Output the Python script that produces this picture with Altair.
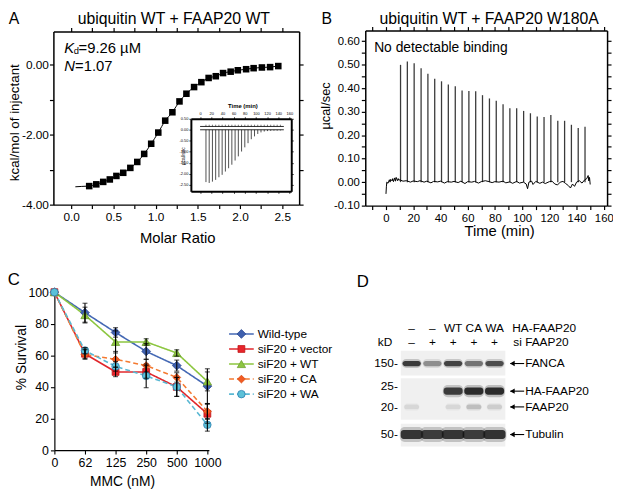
import altair as alt
import pandas as pd

W, H = 613, 490
FONT = "Liberation Sans"


def px(v):
    return v - 8


# ---------------- Panel A: ITC isotherm (ubiquitin WT + FAAP20 WT) -------------
molar_ratio = [0.214, 0.298, 0.380, 0.458, 0.536, 0.617, 0.701, 0.783, 0.865,
               0.948, 1.032, 1.114, 1.199, 1.283, 1.365, 1.456, 1.542, 1.628,
               1.713, 1.799, 1.889, 1.974, 2.072, 2.161, 2.259, 2.356, 2.453]
heat_kcal = [-3.47, -3.42, -3.35, -3.28, -3.18, -3.09, -2.95, -2.78, -2.55,
             -2.26, -1.94, -1.60, -1.36, -1.05, -0.83, -0.64, -0.50, -0.38,
             -0.33, -0.24, -0.20, -0.16, -0.13, -0.10, -0.08, -0.07, -0.04]
fit_ratio = [0.05, 0.12] + molar_ratio
fit_heat = [-3.49, -3.48] + heat_kcal

inset_time = [10.5, 16.3, 22.1, 27.9, 33.7, 39.5, 45.3, 51.1, 56.9, 62.7, 68.5, 74.3,
              80.1, 85.9, 91.7, 97.5, 103.3, 109.1, 114.9, 120.7, 126.5, 132.3, 138.1, 143.9]
inset_peak = [-2.38, -2.42, -2.36, -2.28, -2.16, -2.05, -1.90, -1.75, -1.59, -1.40, -1.21, -0.99,
              -0.80, -0.61, -0.43, -0.30, -0.19, -0.12, -0.08, -0.06, -0.05, -0.04, -0.04, -0.03]

# ---------------- Panel B: raw ITC (ubiquitin WT + FAAP20 W180A) ---------------
b_inj_time = [10.7, 15.7, 20.7, 25.8, 30.8, 35.8, 40.8, 45.8, 50.9, 55.9, 60.9, 65.9, 70.9, 76.0,
              81.0, 86.0, 91.0, 96.0, 101.1, 106.1, 111.1, 116.1, 121.1, 126.2, 131.2, 136.2, 141.2, 146.2]
b_peak = [0.499, 0.513, 0.506, 0.485, 0.461, 0.440, 0.429, 0.415, 0.408, 0.390, 0.388, 0.387, 0.370, 0.356,
          0.346, 0.331, 0.314, 0.314, 0.303, 0.293, 0.279, 0.277, 0.286, 0.261, 0.261, 0.244, 0.230, 0.236]
b_base_t = [0.0, 0.3, 0.6, 1.5, 2.5, 3.0, 3.5, 4.5, 5.0, 5.5, 6.5, 7.0, 7.5, 8.5, 9.0, 9.5, 10.2, 12.5,
            15.0, 18.0, 20.0, 23.0, 25.0, 28.0, 30.0, 33.0, 35.0, 38.0, 40.0, 43.0, 45.0, 48.0, 50.0,
            53.0, 55.0, 58.0, 60.0, 63.0, 65.0, 68.0, 70.0, 73.0, 75.0, 78.0, 80.0, 83.0, 86.0, 88.0,
            91.0, 93.0, 96.0, 98.0, 101.0, 103.0, 104.0, 105.0, 107.0, 108.0, 110.0, 113.0, 115.0,
            117.0, 120.0, 122.0, 124.0, 126.0, 128.0, 130.0, 132.0, 134.0, 135.5, 137.0, 138.5, 140.0,
            142.0, 144.0, 146.0, 147.5, 148.5, 149.0, 149.5, 150.0]
b_base_v = [-0.05, -0.02, 0.0, -0.005, 0.01, 0.0, 0.012, 0.005, 0.015, 0.002, 0.018, 0.004, 0.02,
            0.006, 0.015, 0.008, 0.01, 0.004, 0.006, 0.0, 0.005, 0.002, 0.006, 0.0, 0.004, -0.003,
            0.003, 0.001, 0.004, -0.004, 0.002, 0.0, 0.003, -0.002, 0.004, -0.006, 0.002, 0.0, 0.003,
            -0.004, 0.002, 0.006, 0.003, -0.002, 0.002, 0.0, 0.004, -0.003, 0.001, -0.005, 0.003,
            -0.004, 0.0, -0.008, -0.028, 0.0, 0.004, -0.01, 0.003, -0.005, 0.0, -0.006, 0.002, 0.004,
            -0.008, -0.012, 0.0, 0.003, -0.006, -0.015, -0.025, -0.008, -0.018, 0.0, 0.006, -0.004,
            0.01, 0.015, 0.028, 0.005, 0.02, -0.01]

# ---------------- Panel C: survival ----------------------------------------------
doses = ["0", "62", "125", "250", "500", "1000"]
series = ["Wild-type", "siF20 + vector", "siF20 + WT", "siF20 + CA", "siF20 + WA"]
surv_wt = [100, 87, 74.5, 62.5, 53.5, 40.5]
surv_vector = [100, 61, 49.5, 49.5, 40, 23]
surv_siwt = [100, 85.5, 68.5, 68.5, 61.5, 43.5]
surv_ca = [100, 60.5, 57.5, 53.5, 46, 24.5]
surv_wa = [100, 63, 53, 47, 40, 16]
err_wt = [0, 6, 3, 5, 3.5, 11]
err_vector = [0, 3, 3, 4, 6, 6]
err_siwt = [0, 5, 7, 2, 2, 6]
err_ca = [0, 3, 5, 4, 3, 5]
err_wa = [0, 2, 3, 7.5, 6, 4]

# ---------------- Panel D: western blot ------------------------------------------
lanes = [1, 2, 3, 4, 5]
ha_row = ["\u2013", "\u2013", "WT", "CA", "WA"]
si_row = ["\u2013", "+", "+", "+", "+"]
fanca_int = [0.85, 0.42, 0.80, 0.55, 0.75]
ha_faap20_int = [0.0, 0.0, 0.85, 0.95, 0.95]
faap20_int = [0.10, 0.0, 0.10, 0.20, 0.14]
tubulin_int = [0.88, 0.85, 0.88, 0.85, 0.90]
blot_labels = ["FANCA", "HA-FAAP20", "FAAP20", "Tubulin"]
blot_row = [2.57, 4.57, 5.71, 7.71]
mw_labels = ["150-", "25-", "20-", "50-"]
mw_row = [2.57, 4.21, 5.71, 7.71]
strip_top = [1.64, 3.64, 6.93]
strip_bottom = [3.43, 6.64, 8.57]


# ---------------- helpers ---------------------------------------------------------
def lin(domain, rng):
    return alt.Scale(domain=domain, range=rng, nice=False, zero=False)


def off_l(x):
    return -px(x)


def off_r(x):
    return px(x) - W


def off_t(y):
    return -px(y)


def off_b(y):
    return px(y) - H


def axis(orient, offset, values, labels=True, expr=None, size=12, tick=4, dw=1.5, pad=2, tw=1.2):
    kw = dict(orient=orient, offset=offset, values=values, title=None, grid=False,
              domainColor="black", domainWidth=dw, tickColor="black", tickWidth=tw,
              tickSize=tick, labels=labels, labelFont=FONT, labelFontSize=size,
              labelColor="black", labelPadding=pad, labelFlush=False, labelOverlap=False)
    if expr:
        kw["labelExpr"] = expr
    return alt.Axis(**kw)


def txt(s, x, y, size=12, angle=0, align="left", baseline="alphabetic", style="normal",
        weight="normal", font=FONT):
    return alt.Chart(alt.Data(values=[{"k": 0}])).mark_text(
        align=align, baseline=baseline, fontSize=size, angle=angle, font=font,
        fontStyle=style, fontWeight=weight, color="black"
    ).encode(x=alt.value(px(x)), y=alt.value(px(y)), text=alt.value(s))


MINUS = "\u2212"
fmt2 = "replace(format(datum.value, '.2f'), '" + MINUS + "', '-')"

# ---------------- Panel A --------------------------------------------------------
A_xs = lin([-0.21, 2.70], [px(54), px(303)])
A_ys = lin([-4.0, 0.95], [px(204), px(28.5)])
a_xt = [0, 0.25, 0.5, 0.75, 1.0, 1.25, 1.5, 1.75, 2.0, 2.25, 2.5]
a_yt = [-4, -3, -2, -1, 0]
a_bottom = axis("bottom", off_b(204), a_xt, pad=3,
                expr="(datum.value*2) % 1 == 0 ? format(datum.value, '.1f') : ''")
a_left = axis("left", off_l(54), a_yt, pad=1,
              expr="datum.value % 2 == 0 ? " + fmt2 + " : ''")
a_top = axis("top", off_t(28.5), a_xt, labels=False)
a_right = axis("right", off_r(303), a_yt, labels=False)

a_df = pd.DataFrame({"ratio": molar_ratio, "heat": heat_kcal})
fit_df = pd.DataFrame({"ratio": fit_ratio, "heat": fit_heat})

A_main = alt.layer(
    alt.Chart(fit_df).mark_line(color="black", strokeWidth=1, interpolate="monotone").encode(
        x=alt.X("ratio:Q", scale=A_xs, axis=a_bottom), y=alt.Y("heat:Q", scale=A_ys, axis=a_left)),
    alt.Chart(a_df).mark_point(shape="square", filled=True, size=44, color="black", opacity=1).encode(
        x=alt.X("ratio:Q", scale=A_xs, axis=a_bottom), y=alt.Y("heat:Q", scale=A_ys, axis=a_left)),
)
A_dummy = alt.Chart(a_df).mark_point(opacity=0).encode(
    x=alt.X("ratio:Q", scale=A_xs, axis=a_top), y=alt.Y("heat:Q", scale=A_ys, axis=a_right))

# inset
I_xs = lin([-16.5, 163.3], [px(193.3), px(295)])
I_ys = lin([-2.8, 0.5], [px(190.5), px(117)])
i_xt = [0, 20, 40, 60, 80, 100, 120, 140, 160]
i_yt = [0.5, 0.0, -0.5, -1.0, -1.5, -2.0, -2.5]
i_top = axis("top", off_t(117), i_xt, size=4, tick=2, pad=1, dw=2, tw=0.8)
i_left = axis("left", off_l(193.3), i_yt, expr=fmt2, size=4, tick=2, pad=1, dw=2, tw=0.8)
i_bottom = axis("bottom", off_b(190.5), i_xt, labels=False, tick=2, dw=2, tw=0.8)
i_right = axis("right", off_r(295), i_yt, labels=False, tick=2, dw=2, tw=0.8)

ins_df = pd.DataFrame({"t": inset_time, "peak": inset_peak})
ins_df["zero"] = 0.0
ins_df["up0"] = 0.15
ins_df["up1"] = 0.23
ins_lines = pd.DataFrame({"t0": [0.0, 0.0], "t1": [150.0, 150.0], "lev": [0.0, 0.15]})

ins_main = alt.layer(
    alt.Chart(ins_df).mark_rule(color="#222", strokeWidth=0.8).encode(
        x=alt.X("t:Q", scale=I_xs, axis=i_top), y=alt.Y("zero:Q", scale=I_ys, axis=i_left),
        y2="peak:Q"),
    alt.Chart(ins_df).mark_rule(color="#222", strokeWidth=0.6).encode(
        x=alt.X("t:Q", scale=I_xs, axis=i_top), y=alt.Y("up0:Q", scale=I_ys, axis=i_left),
        y2="up1:Q"),
    alt.Chart(ins_lines).mark_rule(color="#111", strokeWidth=0.9).encode(
        x=alt.X("t0:Q", scale=I_xs, axis=i_top), x2="t1:Q",
        y=alt.Y("lev:Q", scale=I_ys, axis=i_left)),
)
ins_dummy = alt.Chart(ins_df).mark_point(opacity=0).encode(
    x=alt.X("t:Q", scale=I_xs, axis=i_bottom), y=alt.Y("peak:Q", scale=I_ys, axis=i_right))

# ---------------- Panel B --------------------------------------------------------
B_xs = lin([-15.2, 162.4], [px(370), px(615)])
B_ys = lin([-0.10, 0.645], [px(205), px(27.6)])
b_xt = [-10, 0, 10, 20, 30, 40, 50, 60, 70, 80, 90, 100, 110, 120, 130, 140, 150, 160]
b_yt = [-0.10, -0.05, 0.0, 0.05, 0.10, 0.15, 0.20, 0.25, 0.30, 0.35, 0.40, 0.45, 0.50, 0.55, 0.60]
b_bottom = axis("bottom", off_b(205), b_xt, pad=3, size=11.5,
                expr="datum.value % 20 == 0 ? format(datum.value, 'd') : ''")
b_left = axis("left", off_l(370), b_yt, pad=2, size=11.5,
              expr="abs(round(datum.value*100)) % 10 == 0 ? " + fmt2 + " : ''")
b_top = axis("top", off_t(27.6), b_xt, labels=False)
b_right = axis("right", off_r(615), b_yt, labels=False)

b_spk = pd.DataFrame({"t": b_inj_time, "peak": b_peak})
b_spk["zero"] = 0.0
b_trace = pd.DataFrame({"t": b_base_t, "v": b_base_v})

B_main = alt.layer(
    alt.Chart(b_spk).mark_rule(color="#3a3a3a", strokeWidth=1.3).encode(
        x=alt.X("t:Q", scale=B_xs, axis=b_bottom), y=alt.Y("zero:Q", scale=B_ys, axis=b_left),
        y2="peak:Q"),
    alt.Chart(b_trace).mark_line(color="black", strokeWidth=1).encode(
        x=alt.X("t:Q", scale=B_xs, axis=b_bottom), y=alt.Y("v:Q", scale=B_ys, axis=b_left)),
)
B_dummy = alt.Chart(b_trace).mark_point(opacity=0).encode(
    x=alt.X("t:Q", scale=B_xs, axis=b_top), y=alt.Y("v:Q", scale=B_ys, axis=b_right))

# ---------------- Panel C --------------------------------------------------------
C_xs = lin([0, 5.05], [px(55), px(211.55)])
C_ys = lin([0, 100], [px(452.7), px(292.7)])
dose_expr = "[" + ",".join("'" + d + "'" for d in doses) + "][datum.value]"
c_xaxis = axis("bottom", off_b(452.7), [0, 1, 2, 3, 4, 5], expr=dose_expr, size=12.5,
               tick=4, pad=3, dw=1.2, tw=1.1)
c_yaxis = axis("left", off_l(55), [0, 20, 40, 60, 80, 100], size=12.5, tick=4, pad=2,
               dw=1.2, tw=1.1)

line_colors = ["#4468b4", "#e0262b", "#8cc63f", "#f47a30", "#5ab8d3"]
fill_colors = ["#3f60ae", "#e8242b", "#8dc641", "#f15a22", "#5cc1d8"]
edge_colors = ["#2a4890", "#c01818", "#6fa030", "#d84a10", "#2c7fb0"]
shapes = ["diamond", "square", "triangle-up", "diamond", "circle"]
sizes = [80, 48, 70, 62, 58]
dashes = [[1, 0], [1, 0], [1, 0], [5, 3], [5, 3]]

rows = []
for s, vals, errs in zip(series, [surv_wt, surv_vector, surv_siwt, surv_ca, surv_wa],
                         [err_wt, err_vector, err_siwt, err_ca, err_wa]):
    for i, (v, e) in enumerate(zip(vals, errs)):
        rows.append({"series": s, "dose": i, "surv": v, "err": e, "lo": v - e, "hi": v + e})
c_df = pd.DataFrame(rows)
e_df = c_df[c_df["err"] > 0]


def cx(f):
    return alt.X(f, type="quantitative", scale=C_xs, axis=c_xaxis)


def cy(f):
    return alt.Y(f, type="quantitative", scale=C_ys, axis=c_yaxis)


color_enc = alt.Color("series:N", scale=alt.Scale(domain=series, range=line_colors), legend=None)
dash_enc = alt.StrokeDash("series:N", scale=alt.Scale(domain=series, range=dashes), legend=None)

c_layers = [
    alt.Chart(c_df).mark_line(strokeWidth=1.6).encode(x=cx("dose"), y=cy("surv"),
                                                      color=color_enc, strokeDash=dash_enc),
]
for k, s in enumerate(series):
    c_layers.append(
        alt.Chart(c_df).transform_filter(alt.datum.series == s).mark_point(
            shape=shapes[k], filled=True, size=sizes[k], fill=fill_colors[k],
            stroke=edge_colors[k], strokeWidth=0.8, opacity=1).encode(x=cx("dose"), y=cy("surv")))
c_layers += [
    alt.Chart(e_df).mark_rule(color="black", strokeWidth=1.1).encode(
        x=cx("dose"), y=cy("lo"), y2="hi:Q"),
    alt.Chart(e_df).mark_tick(orient="horizontal", color="black", size=5, thickness=1.1).encode(
        x=cx("dose"), y=cy("lo")),
    alt.Chart(e_df).mark_tick(orient="horizontal", color="black", size=5, thickness=1.1).encode(
        x=cx("dose"), y=cy("hi")),
]
C_main = alt.layer(*c_layers)

# legend
L_xs = lin([0, 1], [px(232), px(257)])
L_ys = lin([0, 4], [px(335), px(396)])
leg_df = pd.DataFrame({"series": series, "idx": list(range(len(series)))})
leg_layers = [
    alt.Chart(leg_df).mark_rule(strokeWidth=1.6).encode(
        x=alt.XDatum(0, scale=L_xs, axis=None), x2=alt.X2Datum(1),
        y=alt.Y("idx:Q", scale=L_ys, axis=None), color=color_enc, strokeDash=dash_enc),
]
for k, s in enumerate(series):
    leg_layers.append(
        alt.Chart(leg_df).transform_filter(alt.datum.series == s).mark_point(
            shape=shapes[k], filled=True, size=sizes[k], fill=fill_colors[k],
            stroke=edge_colors[k], strokeWidth=0.8, opacity=1).encode(
            x=alt.XDatum(0.5, scale=L_xs, axis=None), y=alt.Y("idx:Q", scale=L_ys, axis=None)))
leg_layers.append(
    alt.Chart(leg_df).mark_text(align="left", baseline="middle", dx=4, fontSize=12, font=FONT,
                                color="black").encode(
        x=alt.XDatum(1, scale=L_xs, axis=None), y=alt.Y("idx:Q", scale=L_ys, axis=None),
        text="series:N"))
Leg = alt.layer(*leg_layers)

# ---------------- Panel D --------------------------------------------------------
D_xs = lin([1, 5], [px(417), px(501)])
D_ys = lin([0, 10], [px(329), px(469)])
strip_df = pd.DataFrame({"y0": strip_top, "y1": strip_bottom})
strip_df["x0"] = 0.476
strip_df["x1"] = 5.52

band_half_h = [0.19, 0.26, 0.17, 0.32]
band_half_w = [0.44, 0.46, 0.36, 0.53]
brows = []
for name, r, hh, hw, ints in zip(blot_labels, blot_row, band_half_h, band_half_w,
                                 [fanca_int, ha_faap20_int, faap20_int, tubulin_int]):
    for ln, it in zip(lanes, ints):
        if it <= 0:
            continue
        brows.append({"band": name, "x0": ln - hw, "x1": ln + hw, "y0": r - hh, "y1": r + hh,
                      "hx0": ln - hw * 1.08, "hx1": ln + hw * 1.08,
                      "hy0": r - hh * 1.7, "hy1": r + hh * 1.7,
                      "op": it * 0.9, "hop": it * 0.25})
band_df = pd.DataFrame(brows)
hdr_df = pd.DataFrame({"lane": lanes, "ha": ha_row, "si": si_row})
mw_df = pd.DataFrame({"mw": mw_labels, "row": mw_row})
lab_df = pd.DataFrame({"lab": blot_labels, "row": blot_row})

dX = lambda f: alt.X(f, type="quantitative", scale=D_xs, axis=None)
dY = lambda f: alt.Y(f, type="quantitative", scale=D_ys, axis=None)

D_main = alt.layer(
    alt.Chart(strip_df).mark_rect(color="#f0f0f0").encode(
        x=dX("x0"), x2="x1:Q", y=dY("y0"), y2="y1:Q"),
    alt.Chart(band_df).mark_rect(color="#222", cornerRadius=5).encode(
        x=dX("hx0"), x2="hx1:Q", y=dY("hy0"), y2="hy1:Q",
        opacity=alt.Opacity("hop:Q", scale=None)),
    alt.Chart(band_df).mark_rect(color="#111", cornerRadius=3).encode(
        x=dX("x0"), x2="x1:Q", y=dY("y0"), y2="y1:Q",
        opacity=alt.Opacity("op:Q", scale=None)),
    alt.Chart(hdr_df).mark_text(fontSize=12, font=FONT, baseline="middle", color="black").encode(
        x=dX("lane"), y=alt.value(px(329)), text="ha:N"),
    alt.Chart(hdr_df).mark_text(fontSize=12, font=FONT, baseline="middle", color="black").encode(
        x=dX("lane"), y=alt.value(px(343)), text="si:N"),
    alt.Chart(mw_df).mark_text(fontSize=12, font=FONT, baseline="middle", align="right",
                               color="black").encode(
        x=alt.value(px(403)), y=dY("row"), text="mw:N"),
    alt.Chart(lab_df).mark_rule(color="black", strokeWidth=1.1).encode(
        x=alt.value(px(517)), x2=alt.value(px(531)), y=dY("row")),
    alt.Chart(lab_df).mark_point(shape="triangle-left", filled=True, size=30, color="black",
                                 opacity=1).encode(x=alt.value(px(519)), y=dY("row")),
    alt.Chart(lab_df).mark_text(fontSize=12, font=FONT, baseline="middle", align="left",
                                color="black").encode(
        x=alt.value(px(532)), y=dY("row"), text="lab:N"),
)

# ---------------- free texts -----------------------------------------------------
texts = [
    txt("A", 14, 21, size=16, align="center"),
    txt("ubiquitin WT + FAAP20 WT", 176, 20.5, size=16, align="center"),
    txt("K", 65, 50.5, size=15, style="italic"),
    txt("d", 74.5, 51.5, size=9.5),
    txt("=9.26 \u00b5M", 79.5, 50.5, size=15),
    txt("N", 65, 68.5, size=15, style="italic"),
    txt("=1.07", 76, 68.5, size=15),
    txt("kcal/mol of injectant", 15, 121, size=13.5, angle=270, align="center", baseline="middle"),
    txt("Molar Ratio", 180, 243, size=15, align="center"),
    txt("Time (min)", 246, 106.5, size=6, align="center", weight="bold"),
    txt("\u00b5cal/sec", 185.5, 155, size=5, angle=270, align="center", baseline="middle"),
    txt("B", 331, 21, size=16, align="center"),
    txt("ubiquitin WT + FAAP20 W180A", 495.5, 20.5, size=16, align="center"),
    txt("No detectable binding", 379, 49, size=14),
    txt("\u00b5cal/sec", 330.5, 104, size=13, angle=270, align="center", baseline="middle"),
    txt("Time (min)", 506, 236, size=15, align="center"),
    txt("C", 14, 285, size=17, align="center"),
    txt("% Survival", 22, 359, size=14, angle=270, align="center", baseline="middle"),
    txt("MMC (nM)", 124, 489, size=14, align="center"),
    txt("D", 367.5, 287, size=17, align="center"),
    txt("kD", 390, 343, size=12, align="center", baseline="middle"),
    txt("HA-FAAP20", 519, 329, size=12, baseline="middle"),
    txt("si FAAP20", 520, 343, size=12, baseline="middle"),
]

chart = alt.layer(
    A_main, A_dummy, ins_main, ins_dummy, B_main, B_dummy, C_main, Leg, D_main, *texts
).resolve_scale(x="independent", y="independent").resolve_axis(
    x="independent", y="independent"
).properties(
    width=W, height=H, padding=0, autosize=alt.AutoSizeParams(type="none")
).configure_view(stroke=None)

chart.save("out.html", embed_options={"renderer": "svg", "actions": False})
